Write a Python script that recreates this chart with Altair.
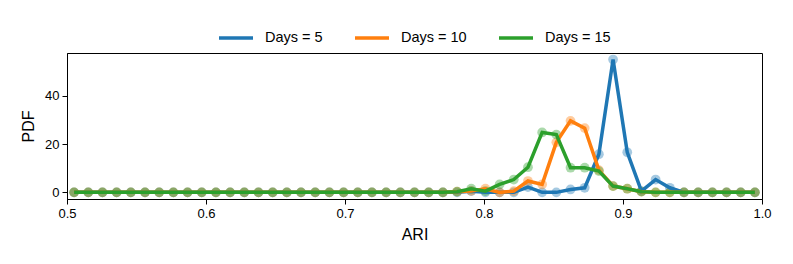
import altair as alt
import pandas as pd
import numpy as np

# 49 histogram bins over ARI in [0.5, 1.0]
bin_edges = np.linspace(0.5, 1.0, 50)
ari = list((bin_edges[:-1] + bin_edges[1:]) / 2)

series_names = ["Days = 5", "Days = 10", "Days = 15"]
colors = ["#1f77b4", "#ff7f0e", "#2ca02c"]

zeros26 = [0.0] * 26
days5 = zeros26 + [0.0, 0.0, 0.5, 0.0, 0.0, 0.0, 2.2, 0.0, 0.0, 1.2, 1.9, 15.8, 55.0,
                   16.6, 0.5, 5.3, 1.9, 0.0, 0.0, 0.0, 0.0, 0.0, 0.0]
days10 = zeros26 + [0.0, 0.3, 0.6, 1.5, 0.0, 0.5, 4.7, 3.3, 20.7, 29.6, 26.6, 9.2, 2.6,
                    1.5, 0.3, 0.0, 0.0, 0.0, 0.0, 0.0, 0.0, 0.0, 0.0]
days15 = zeros26 + [0.0, 0.3, 1.5, 0.5, 3.3, 5.3, 10.4, 24.8, 23.9, 10.2, 10.2, 8.8, 2.6,
                    1.5, 0.3, 0.0, 0.0, 0.0, 0.0, 0.0, 0.0, 0.0, 0.0]

rows = []
for name, vals in zip(series_names, [days5, days10, days15]):
    for a, v in zip(ari, vals):
        rows.append({"ARI": a, "PDF": v, "series": name})
df = pd.DataFrame(rows)

FONT = "Liberation Sans"

x = alt.X("ARI:Q", scale=alt.Scale(domain=[0.5, 1.0], nice=False, zero=False),
          axis=alt.Axis(values=[0.5, 0.6, 0.7, 0.8, 0.9, 1.0], format=".1f", title="ARI",
                        grid=False, tickSize=5, tickColor="black", domainColor="black",
                        labelFontSize=13, titleFontSize=16, labelPadding=3, titlePadding=6,
                        labelFlush=False, labelOverlap=False,
                        labelColor="black", titleColor="black", titleFontWeight="normal"))
y = alt.Y("PDF:Q", scale=alt.Scale(domain=[-2.75, 57.7], nice=False, zero=False),
          axis=alt.Axis(values=[0, 20, 40], title="PDF", grid=False, tickSize=5,
                        tickColor="black", domainColor="black", labelFontSize=13,
                        titleFontSize=16, labelPadding=3, titlePadding=8,
                        labelColor="black", titleColor="black", titleFontWeight="normal"))

legend = alt.Legend(title=None, orient="none", direction="horizontal",
                    legendX=150, legendY=-34, symbolType="stroke",
                    symbolStrokeWidth=3.5, symbolSize=1156, symbolOpacity=1,
                    labelFontSize=14.5, labelFont=FONT, labelColor="black",
                    columnPadding=25, labelOffset=10)
color = alt.Color("series:N", scale=alt.Scale(domain=series_names, range=colors),
                  sort=series_names, legend=legend)

points = alt.Chart(df).mark_circle(size=95, opacity=0.4).encode(
    x=x, y=y, color=color,
)

lines = alt.Chart(df).mark_line(strokeWidth=3.5).encode(
    x=x, y=y, color=color,
)

chart = alt.layer(points, lines).properties(
    width=695, height=146,
    autosize=alt.AutoSizeParams(type="none"),
    padding={"left": 59, "top": 45, "right": 20, "bottom": 50},
).configure_view(stroke="black", strokeWidth=1).configure_axis(
    labelFont=FONT, titleFont=FONT
)

chart.save("out.html", embed_options={"renderer": "svg", "actions": False})
